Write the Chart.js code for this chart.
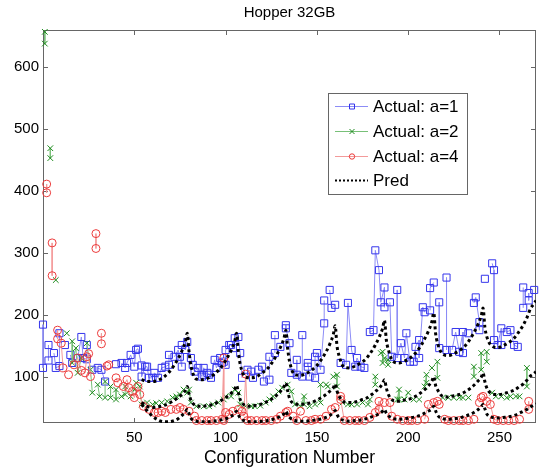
<!DOCTYPE html>
<html lang="en">
<head>
<meta charset="utf-8" />
<title>Hopper 32GB</title>
<script src="https://cdn.jsdelivr.net/npm/chart.js@4.4.0/dist/chart.umd.min.js"></script>
<style>
  body { margin: 0; background: #fff; }
</style>
</head>
<body>
<canvas id="myChart" width="542" height="469"></canvas>
<script>
const xTicks = [50, 100, 150, 200, 250];
const yTicks = [100, 200, 300, 400, 500, 600];
const labels = ["Actual: a=1", "Actual: a=2", "Actual: a=4", "Pred"];

// actual runtimes, a=1 (blue squares)
const blueX = [
  0, 0, 3, 3, 6, 7, 9, 9, 12, 15,
  16, 19, 21, 22, 24, 24, 27, 30, 32, 34,
  40, 43, 45, 46, 48, 50, 51, 52, 54, 54,
  56, 57, 58, 60, 61, 63, 65, 67, 69, 69,
  72, 74, 75, 76, 76, 78, 79, 81, 82, 83,
  85, 87, 88, 88, 90, 91, 92, 94, 95, 97,
  98, 99, 100, 100, 102, 103, 104, 105, 107, 108,
  109, 112, 114, 115, 118, 120, 121, 124, 124, 127,
  127, 130, 133, 133, 135, 136, 139, 139, 142, 142,
  145, 145, 146, 149, 149, 150, 152, 154, 154, 157,
  158, 160, 163, 166, 167, 169, 171, 172, 174, 176,
  179, 181, 182, 184, 185, 187, 187, 190, 191, 194,
  194, 196, 198, 199, 201, 203, 204, 206, 206, 208,
  209, 212, 212, 214, 217, 217, 221, 221, 224, 226,
  228, 230, 230, 233, 236, 237, 239, 239, 242, 246,
  247, 247, 249, 251, 251, 254, 256, 258, 260, 263,
  263, 266, 266, 269
];
const blueY = [
  184, 114, 151, 126, 138, 114, 117, 170, 151, 135,
  122, 130, 164, 130, 128, 151, 111, 114, 111, 92,
  120, 122, 114, 122, 135, 116, 143, 145, 118, 100,
  116, 116, 98, 98, 106, 98, 114, 116, 119, 135,
  132, 143, 132, 116, 151, 143, 156, 130, 119, 108,
  114, 100, 114, 103, 106, 103, 98, 127, 114, 130,
  122, 124, 119, 143, 151, 151, 146, 162, 164, 138,
  98, 111, 108, 98, 111, 116, 92, 95, 132, 138,
  167, 148, 183, 178, 154, 106, 127, 103, 100, 167,
  116, 122, 100, 98, 132, 138, 111, 186, 223, 240,
  211, 216, 122, 119, 219, 143, 116, 130, 116, 114,
  172, 175, 304, 272, 220, 244, 212, 220, 132, 240,
  130, 154, 130, 170, 124, 124, 148, 159, 130, 212,
  204, 207, 243, 252, 220, 146, 260, 143, 143, 172,
  140, 172, 138, 170, 219, 228, 188, 175, 258, 283,
  272, 159, 151, 178, 151, 172, 175, 151, 148, 211,
  244, 235, 223, 240
];

// actual runtimes, a=2 (green crosses)
const greenX = [
  1, 1, 4, 4, 7, 13, 16, 16, 18, 19,
  21, 24, 26, 27, 30, 31, 34, 34, 37, 37,
  40, 40, 43, 45, 45, 48, 50, 51, 53, 54,
  57, 60, 62, 65, 68, 71, 73, 75, 77, 79,
  80, 81, 84, 88, 91, 93, 96, 99, 100, 103,
  105, 107, 108, 111, 114, 116, 119, 122, 124, 126,
  129, 131, 134, 136, 138, 141, 143, 143, 146, 149,
  152, 152, 155, 156, 159, 161, 161, 164, 167, 169,
  172, 175, 178, 179, 182, 182, 185, 186, 186, 187,
  189, 189, 194, 195, 195, 198, 200, 203, 206, 209,
  210, 210, 213, 216, 216, 219, 222, 225, 228, 230,
  233, 236, 236, 240, 240, 243, 243, 246, 248, 251,
  254, 256, 259, 261, 265, 265
];
const greenY = [
  657, 638, 469, 453, 256, 170, 157, 122, 146, 106,
  130, 154, 111, 74, 87, 68, 66, 92, 84, 66,
  79, 63, 68, 71, 84, 68, 79, 90, 84, 55,
  58, 55, 57, 58, 60, 66, 68, 71, 79, 74,
  79, 58, 52, 52, 52, 55, 58, 63, 68, 68,
  79, 74, 55, 52, 52, 52, 53, 58, 63, 68,
  76, 82, 87, 76, 55, 52, 68, 55, 52, 55,
  87, 58, 87, 84, 100, 103, 84, 58, 55, 55,
  55, 58, 55, 63, 100, 87, 138, 140, 122, 130,
  119, 127, 63, 79, 63, 63, 74, 63, 63, 84,
  103, 90, 114, 124, 98, 66, 66, 66, 66, 66,
  66, 116, 100, 138, 111, 140, 124, 74, 68, 68,
  66, 68, 68, 68, 114, 84
];

// actual runtimes, a=4 (red circles)
const redX = [
  2, 2, 5, 5, 8, 8, 10, 11, 14, 17,
  19, 21, 23, 24, 25, 26, 29, 29, 32, 32,
  35, 36, 40, 41, 44, 46, 47, 49, 50, 52,
  53, 55, 58, 61, 63, 65, 67, 70, 73, 75,
  77, 80, 83, 84, 87, 90, 92, 95, 98, 99,
  99, 100, 102, 104, 107, 109, 110, 111, 112, 114,
  117, 120, 122, 125, 128, 130, 133, 134, 137, 139,
  141, 144, 147, 149, 152, 155, 158, 160, 163, 163,
  165, 168, 171, 173, 176, 179, 182, 184, 184, 187,
  190, 191, 194, 197, 200, 202, 205, 209, 211, 214,
  216, 217, 220, 222, 225, 228, 230, 233, 236, 239,
  240, 241, 243, 245, 247, 249, 252, 255, 258, 261,
  266, 266
];
const redY = [
  411, 397, 316, 263, 175, 161, 154, 114, 103, 119,
  130, 110, 106, 132, 137, 100, 331, 307, 170, 153,
  117, 119, 98, 90, 84, 95, 82, 76, 66, 84,
  71, 52, 47, 42, 42, 44, 42, 47, 47, 50,
  47, 44, 36, 29, 29, 29, 29, 29, 31, 130,
  29, 42, 39, 44, 47, 44, 36, 104, 29, 29,
  29, 29, 29, 29, 31, 36, 42, 44, 36, 29,
  44, 29, 29, 31, 31, 36, 47, 50, 68, 63,
  29, 29, 29, 29, 29, 34, 42, 60, 47, 58,
  58, 36, 31, 29, 29, 29, 29, 31, 55, 58,
  60, 55, 31, 29, 29, 29, 29, 29, 31, 58,
  66, 68, 60, 55, 31, 29, 29, 29, 29, 31,
  60, 47
];

// predicted curves, sampled configurations
const predX = [
  54, 57, 60, 63, 66, 69, 72, 74, 76, 78, 79, 80,
  81, 84, 87, 90, 93, 96, 99, 101, 103, 105, 106, 107,
  108, 111, 114, 117, 120, 123, 126, 128, 130, 132, 133, 134,
  135, 138, 141, 144, 147, 150, 153, 155, 157, 159, 160, 161,
  162, 165, 168, 171, 174, 177, 180, 182, 184, 186, 187, 188,
  189, 192, 195, 198, 201, 204, 207, 209, 211, 213, 214, 215,
  216, 219, 222, 225, 228, 231, 234, 236, 238, 240, 241, 242,
  243, 246, 249, 252, 255, 258, 261, 263, 265, 267, 269, 270
];
const predA1 = [
  95, 92, 92, 94, 99, 107, 119, 129, 141, 157, 170, 140,
  118, 96, 95, 97, 102, 110, 121, 131, 142, 157, 170, 140,
  120, 99, 98, 100, 106, 113, 125, 135, 147, 162, 175, 145,
  125, 103, 102, 105, 110, 118, 130, 140, 152, 168, 182, 150,
  135, 115, 114, 117, 122, 129, 141, 151, 163, 178, 191, 160,
  145, 124, 122, 125, 130, 138, 150, 161, 173, 189, 203, 170,
  155, 136, 134, 137, 142, 149, 161, 171, 183, 198, 211, 180,
  165, 149, 147, 150, 155, 162, 174, 183, 195, 210, 218, 223
];
const predA2 = [
  58, 52, 50, 51, 53, 57, 62, 66, 71, 78, 84, 72,
  62, 53, 52, 53, 55, 59, 64, 68, 73, 80, 86, 74,
  63, 53, 52, 54, 56, 60, 65, 70, 76, 84, 90, 77,
  65, 56, 55, 56, 58, 62, 67, 71, 76, 82, 88, 77,
  69, 59, 58, 59, 62, 65, 71, 76, 81, 89, 95, 82,
  72, 61, 60, 62, 64, 68, 74, 79, 85, 93, 100, 86,
  79, 68, 67, 69, 71, 75, 81, 86, 92, 99, 106, 92,
  82, 72, 71, 72, 75, 78, 84, 88, 94, 101, 105, 108
];
const predA4 = [
  55, 45, 36, 30, 27, 27, 29, 32, 37, 43, 47, 40,
  33, 28, 27, 27, 28, 29, 31, 33, 36, 40, 44, 38,
  33, 28, 27, 27, 28, 29, 31, 33, 36, 40, 44, 38,
  34, 29, 28, 28, 29, 30, 32, 34, 37, 42, 45, 39,
  34, 29, 28, 29, 30, 32, 35, 37, 40, 44, 47, 41,
  37, 32, 31, 32, 33, 35, 38, 41, 44, 48, 52, 45,
  38, 32, 31, 32, 33, 36, 39, 42, 46, 51, 55, 48,
  40, 34, 33, 34, 35, 37, 41, 44, 47, 51, 54, 56
];

const FONT = '"Liberation Sans", Arial, Helvetica, sans-serif';

const look = [
  { line: "#8c8cf6", mark: "#3535ec", style: "rect", r: 5, order: 4 },
  { line: "#78c078", mark: "#1d8a1d", style: "crossRot", r: 4, order: 3 },
  { line: "#f39a9a", mark: "#ec3b3b", style: "circle", r: 4, order: 2 },
];

let pts = (xs, ys) => xs.map((x, i) => ({ x: x, y: ys[i] }));

// break the line where runs are far apart so only neighbouring runs are joined
let stems = (xs, ys) => {
  let out = [];
  xs.forEach((x, i) => {
    if (i > 0 && x - xs[i - 1] > 2) out.push({ x: (x + xs[i - 1]) / 2, y: null });
    out.push({ x: x, y: ys[i] });
  });
  return out;
};

let actual = (xs, ys, i) => ({
  label: labels[i],
  data: stems(xs, ys),
  showLine: true,
  spanGaps: false,
  borderColor: look[i].line,
  borderWidth: 1,
  pointStyle: look[i].style,
  pointRadius: look[i].r,
  pointHoverRadius: look[i].r,
  pointBorderColor: look[i].mark,
  pointBackgroundColor: "rgba(0,0,0,0)",
  pointBorderWidth: 1,
  clip: 6,
  order: look[i].order,
});

let pred = (ys) => ({
  label: "Pred",
  data: pts(predX, ys),
  showLine: true,
  borderColor: "#000",
  borderWidth: 3,
  borderDash: [3, 3],
  pointRadius: 0,
  cubicInterpolationMode: "monotone",
  order: 1,
});

// frame, inward ticks, title and legend drawn the MATLAB way
const matlabLook = {
  id: "matlabLook",
  beforeDatasetsDraw(chart) {
    const { ctx, chartArea: a, scales } = chart;
    ctx.save();
    ctx.strokeStyle = "#666";
    ctx.lineWidth = 1;
    ctx.strokeRect(a.left + 0.5, a.top + 0.5, a.right - a.left - 1, a.bottom - a.top - 1);
    ctx.beginPath();
    xTicks.forEach((v) => {
      const px = Math.round(scales.x.getPixelForValue(v)) + 0.5;
      ctx.moveTo(px, a.bottom);
      ctx.lineTo(px, a.bottom - 5);
      ctx.moveTo(px, a.top);
      ctx.lineTo(px, a.top + 5);
    });
    yTicks.forEach((v) => {
      const py = Math.round(scales.y.getPixelForValue(v)) + 0.5;
      ctx.moveTo(a.left, py);
      ctx.lineTo(a.left + 5, py);
      ctx.moveTo(a.right, py);
      ctx.lineTo(a.right - 5, py);
    });
    ctx.stroke();
    ctx.restore();
  },
  afterDraw(chart) {
    const { ctx, chartArea: a } = chart;
    ctx.save();
    ctx.fillStyle = "#000";
    ctx.font = "15px " + FONT;
    ctx.textAlign = "center";
    ctx.textBaseline = "middle";
    ctx.fillText("Hopper 32GB", (a.left + a.right) / 2, 13);

    // legend
    const bx = 328, by = 93, bw = 139, bh = 101;
    ctx.fillStyle = "#fff";
    ctx.fillRect(bx, by, bw, bh);
    ctx.strokeStyle = "#666";
    ctx.lineWidth = 1;
    ctx.strokeRect(bx + 0.5, by + 0.5, bw, bh);
    labels.forEach((txt, i) => {
      const y = Math.round(by + 13 + i * 24.8) + 0.5;
      ctx.beginPath();
      if (i < 3) {
        ctx.strokeStyle = look[i].line;
        ctx.lineWidth = 1;
        ctx.setLineDash([]);
      } else {
        ctx.strokeStyle = "#000";
        ctx.lineWidth = 2;
        ctx.setLineDash([2, 2]);
      }
      ctx.moveTo(335, y);
      ctx.lineTo(368, y);
      ctx.stroke();
      ctx.setLineDash([]);
      if (i < 3) {
        ctx.strokeStyle = look[i].mark;
        ctx.lineWidth = 1;
        ctx.beginPath();
        if (look[i].style === "rect") {
          ctx.rect(349.5, y - 2.5, 5, 5);
        } else if (look[i].style === "crossRot") {
          ctx.moveTo(349.5, y - 2.5);
          ctx.lineTo(354.5, y + 2.5);
          ctx.moveTo(354.5, y - 2.5);
          ctx.lineTo(349.5, y + 2.5);
        } else {
          ctx.arc(352, y, 2.7, 0, Math.PI * 2);
        }
        ctx.stroke();
      }
      ctx.fillStyle = "#000";
      ctx.font = "17px " + FONT;
      ctx.textAlign = "left";
      ctx.fillText(txt, 373, y + 1);
    });
    ctx.restore();
  },
};

new Chart(document.getElementById("myChart"), {
  type: "scatter",
  data: {
    datasets: [
      pred(predA1),
      pred(predA2),
      pred(predA4),
      actual(blueX, blueY, 0),
      actual(greenX, greenY, 1),
      actual(redX, redY, 2),
    ],
  },
  options: {
    responsive: false,
    animation: false,
    layout: { padding: { top: 30, right: 2, left: 0, bottom: 0 } },
    plugins: {
      legend: { display: false },
      title: { display: false },
      tooltip: { enabled: false },
    },
    scales: {
      x: {
        type: "linear",
        min: 0,
        max: 270,
        afterBuildTicks: (s) => {
          s.ticks = xTicks.map((v) => ({ value: v }));
        },
        afterFit: (s) => {
          s.height = 46;
        },
        grid: { display: false, drawTicks: false },
        border: { display: false },
        ticks: { color: "#000", font: { family: FONT, size: 15 }, padding: 6, maxRotation: 0 },
        title: {
          display: true,
          text: "Configuration Number",
          color: "#000",
          font: { family: FONT, size: 17.5 },
          padding: { top: 0, bottom: 0 },
        },
      },
      y: {
        type: "linear",
        min: 25,
        max: 660,
        afterBuildTicks: (s) => {
          s.ticks = yTicks.map((v) => ({ value: v }));
        },
        afterFit: (s) => {
          s.width = 43;
        },
        grid: { display: false, drawTicks: false },
        border: { display: false },
        ticks: { color: "#000", font: { family: FONT, size: 15 }, padding: 4 },
      },
    },
  },
  plugins: [matlabLook],
});
</script>
</body>
</html>
